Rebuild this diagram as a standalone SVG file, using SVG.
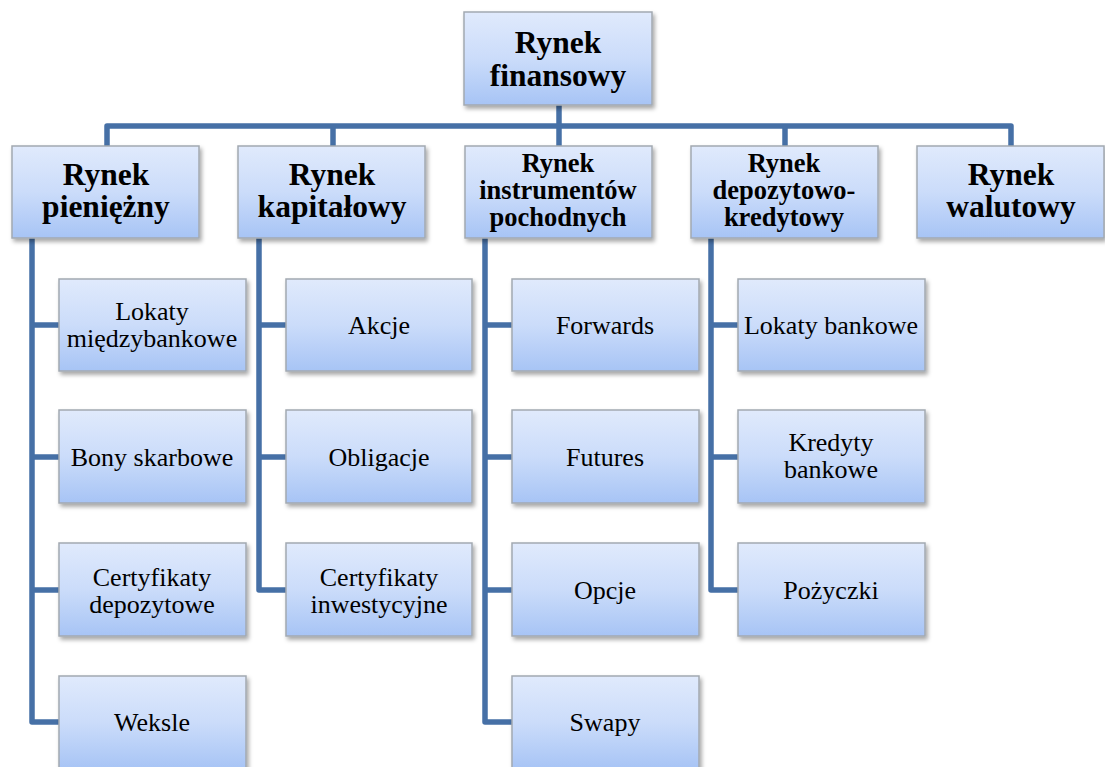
<svg xmlns="http://www.w3.org/2000/svg" width="1105" height="767" viewBox="0 0 1105 767">
  <style>
    .box { fill: url(#fillGrad); stroke: #a3a9b1; stroke-width: 1.5; filter: url(#shadow); }
    .conn { fill: none; stroke: #4670a6; stroke-width: 5.5; stroke-linejoin: round; stroke-linecap: butt; }
    text { font-family: "Liberation Serif", Tinos, "Times New Roman", "DejaVu Serif", serif; fill: #000; text-anchor: middle; }
    .head { font-weight: bold; font-size: 31.5px; }
    .head3 { font-weight: bold; font-size: 26.5px; }
    .leaf { font-size: 26px; }
  </style>
  <defs>
    <linearGradient id="fillGrad" x1="0" y1="0" x2="0" y2="1">
      <stop offset="0" stop-color="#e0eafc"/>
      <stop offset="0.5" stop-color="#cbdcfa"/>
      <stop offset="1" stop-color="#a7c4f5"/>
    </linearGradient>
    <filter id="shadow" x="-10%" y="-10%" width="125%" height="130%">
      <feDropShadow dx="2" dy="3" stdDeviation="2" flood-color="#000" flood-opacity="0.35"/>
    </filter>
  </defs>

  <rect width="1105" height="767" fill="#fff"/>

  <!-- connectors -->
  <g id="connectors">
    <path class="conn" d="M559 105 V146"/>
    <path class="conn" d="M107 146 V126 H1011 V146"/>
    <path class="conn" d="M333 126 V146"/>
    <path class="conn" d="M785 126 V146"/>
    <!-- Rynek pieniężny children -->
    <path class="conn" d="M32 238 V722 H59"/>
    <path class="conn" d="M32 325 H59 M32 457 H59 M32 590 H59"/>
    <!-- Rynek kapitałowy children -->
    <path class="conn" d="M259 238 V590 H286"/>
    <path class="conn" d="M259 325 H286 M259 457 H286"/>
    <!-- Rynek instrumentów pochodnych children -->
    <path class="conn" d="M485 238 V722 H512"/>
    <path class="conn" d="M485 325 H512 M485 457 H512 M485 590 H512"/>
    <!-- Rynek depozytowo-kredytowy children -->
    <path class="conn" d="M711 238 V590 H738"/>
    <path class="conn" d="M711 325 H738 M711 457 H738"/>
  </g>

  <!-- root -->
  <g id="rynek-finansowy">
    <rect class="box" x="464" y="12" width="188" height="93"/>
    <text class="head" x="558" y="53">Rynek</text>
    <text class="head" x="558" y="86">finansowy</text>
  </g>

  <!-- second level -->
  <g id="rynek-pieniezny">
    <rect class="box" x="12" y="146" width="187" height="92"/>
    <text class="head" x="106" y="185">Rynek</text>
    <text class="head" x="106" y="217">pieniężny</text>
  </g>
  <g id="rynek-kapitalowy">
    <rect class="box" x="238" y="146" width="187" height="92"/>
    <text class="head" x="332" y="185">Rynek</text>
    <text class="head" x="332" y="217">kapitałowy</text>
  </g>
  <g id="rynek-instrumentow-pochodnych">
    <rect class="box" x="465" y="146" width="187" height="92"/>
    <text class="head3" x="558" y="172">Rynek</text>
    <text class="head3" x="558" y="199">instrumentów</text>
    <text class="head3" x="558" y="226">pochodnych</text>
  </g>
  <g id="rynek-depozytowo-kredytowy">
    <rect class="box" x="691" y="146" width="187" height="92"/>
    <text class="head3" x="784" y="172">Rynek</text>
    <text class="head3" x="784" y="199">depozytowo-</text>
    <text class="head3" x="784" y="226">kredytowy</text>
  </g>
  <g id="rynek-walutowy">
    <rect class="box" x="917" y="146" width="187" height="92"/>
    <text class="head" x="1011" y="185">Rynek</text>
    <text class="head" x="1011" y="217">walutowy</text>
  </g>

  <!-- leaves: Rynek pieniężny -->
  <g id="lokaty-miedzybankowe">
    <rect class="box" x="59" y="279" width="187" height="92"/>
    <text class="leaf" x="152" y="320">Lokaty</text>
    <text class="leaf" x="152" y="347">międzybankowe</text>
  </g>
  <g id="bony-skarbowe">
    <rect class="box" x="59" y="410" width="187" height="93"/>
    <text class="leaf" x="152" y="466">Bony skarbowe</text>
  </g>
  <g id="certyfikaty-depozytowe">
    <rect class="box" x="59" y="543" width="187" height="93"/>
    <text class="leaf" x="152" y="586">Certyfikaty</text>
    <text class="leaf" x="152" y="613">depozytowe</text>
  </g>
  <g id="weksle">
    <rect class="box" x="59" y="676" width="187" height="93"/>
    <text class="leaf" x="152" y="731">Weksle</text>
  </g>

  <!-- leaves: Rynek kapitałowy -->
  <g id="akcje">
    <rect class="box" x="286" y="279" width="186" height="92"/>
    <text class="leaf" x="379" y="334">Akcje</text>
  </g>
  <g id="obligacje">
    <rect class="box" x="286" y="410" width="186" height="93"/>
    <text class="leaf" x="379" y="466">Obligacje</text>
  </g>
  <g id="certyfikaty-inwestycyjne">
    <rect class="box" x="286" y="543" width="186" height="93"/>
    <text class="leaf" x="379" y="586">Certyfikaty</text>
    <text class="leaf" x="379" y="613">inwestycyjne</text>
  </g>

  <!-- leaves: Rynek instrumentów pochodnych -->
  <g id="forwards">
    <rect class="box" x="512" y="279" width="187" height="92"/>
    <text class="leaf" x="605" y="334">Forwards</text>
  </g>
  <g id="futures">
    <rect class="box" x="512" y="410" width="187" height="93"/>
    <text class="leaf" x="605" y="466">Futures</text>
  </g>
  <g id="opcje">
    <rect class="box" x="512" y="543" width="187" height="93"/>
    <text class="leaf" x="605" y="599">Opcje</text>
  </g>
  <g id="swapy">
    <rect class="box" x="512" y="676" width="187" height="93"/>
    <text class="leaf" x="605" y="731">Swapy</text>
  </g>

  <!-- leaves: Rynek depozytowo-kredytowy -->
  <g id="lokaty-bankowe">
    <rect class="box" x="738" y="279" width="187" height="92"/>
    <text class="leaf" x="831" y="334">Lokaty bankowe</text>
  </g>
  <g id="kredyty-bankowe">
    <rect class="box" x="738" y="410" width="187" height="93"/>
    <text class="leaf" x="831" y="451">Kredyty</text>
    <text class="leaf" x="831" y="478">bankowe</text>
  </g>
  <g id="pozyczki">
    <rect class="box" x="738" y="543" width="187" height="93"/>
    <text class="leaf" x="831" y="599">Pożyczki</text>
  </g>
</svg>
